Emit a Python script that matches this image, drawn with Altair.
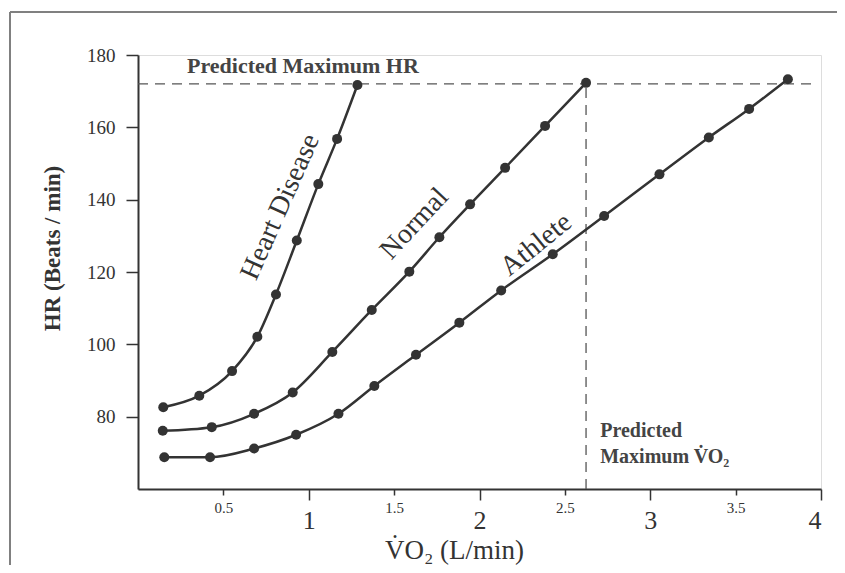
import altair as alt
import pandas as pd

# ---- data ----
hd_x = [0.148, 0.359, 0.551, 0.699, 0.808, 0.930, 1.056, 1.166, 1.285]
hd_y = [82.6, 85.8, 92.6, 102.1, 113.8, 128.7, 144.3, 156.8, 171.7]

normal_x = [0.145, 0.432, 0.680, 0.906, 1.138, 1.369, 1.589, 1.765, 1.945, 2.150, 2.384, 2.624]
normal_y = [76.1, 77.1, 80.8, 86.7, 97.9, 109.5, 120.1, 129.6, 138.7, 148.8, 160.4, 172.3]

athlete_x = [0.154, 0.422, 0.680, 0.926, 1.174, 1.384, 1.628, 1.882, 2.127, 2.429, 2.730, 3.054, 3.343, 3.579, 3.806]
athlete_y = [68.8, 68.8, 71.2, 75.0, 80.8, 88.5, 97.1, 106.0, 114.9, 124.9, 135.5, 147.0, 157.2, 165.1, 173.3]

x_ticks = [0.5, 1, 1.5, 2, 2.5, 3, 3.5, 4]
y_ticks = [80, 100, 120, 140, 160, 180]

max_hr = 172.0
max_vo2 = 2.624
hr_line_end = 3.96

FONT = "Liberation Serif"
INK = "#333333"

rows = []
for name, xs, ys in [("Heart Disease", hd_x, hd_y), ("Normal", normal_x, normal_y), ("Athlete", athlete_x, athlete_y)]:
    for i, (a, b) in enumerate(zip(xs, ys)):
        rows.append({"series": name, "vo2": a, "hr": b, "order": i})
df = pd.DataFrame(rows)

xscale = alt.Scale(domain=[0, 4], nice=False, zero=False)
yscale = alt.Scale(domain=[60, 180], nice=False, zero=False)

x_axis = alt.Axis(
    values=x_ticks,
    format="~g",
    grid=False,
    domainColor=INK, domainWidth=2,
    tickColor=INK, tickWidth=1.5,
    tickSize={"expr": "datum.value % 1 === 0 ? 11 : 6"},
    labelFont=FONT, labelColor=INK,
    labelFontSize={"expr": "datum.value % 1 === 0 ? 26 : 15"},
    labelPadding={"expr": "datum.value % 1 === 0 ? 7 : 5"},
    title="V\u0307O\u2082 (L/min)",
    titleFont=FONT, titleFontSize=27, titleFontWeight="normal", titleColor=INK,
    titleX=316, titleY=69, titleAlign="center", titleBaseline="alphabetic",
)
y_axis = alt.Axis(
    values=y_ticks,
    grid=False,
    domainColor=INK, domainWidth=2,
    tickColor=INK, tickWidth=1.5, tickSize=12,
    labelFont=FONT, labelColor=INK, labelFontSize=19, labelPadding=11,
    title="HR (Beats / min)",
    titleFont=FONT, titleFontSize=23, titleFontWeight="bold", titleColor=INK,
    titleX=-86, titleY=193, titleAngle=270, titleAlign="center", titleBaseline="middle",
)

base = alt.Chart(df)

lines = base.mark_line(color=INK, strokeWidth=2.5, interpolate="monotone").encode(
    x=alt.X("vo2:Q", scale=xscale, axis=x_axis),
    y=alt.Y("hr:Q", scale=yscale, axis=y_axis),
    detail="series:N",
    order="order:Q",
)
points = base.mark_circle(color=INK, size=100, opacity=1).encode(
    x=alt.X("vo2:Q", scale=xscale),
    y=alt.Y("hr:Q", scale=yscale),
)

hline = alt.Chart(pd.DataFrame({"x": [0], "x2": [hr_line_end], "y": [max_hr]})).mark_rule(
    color="#555555", strokeWidth=1.3, strokeDash=[10, 7]
).encode(x=alt.X("x:Q", scale=xscale), x2="x2:Q", y=alt.Y("y:Q", scale=yscale))

vline = alt.Chart(pd.DataFrame({"x": [max_vo2], "y": [60], "y2": [max_hr]})).mark_rule(
    color="#555555", strokeWidth=1.3, strokeDash=[10, 7]
).encode(x=alt.X("x:Q", scale=xscale), y=alt.Y("y:Q", scale=yscale), y2="y2:Q")

# curve labels
curve_labels = pd.DataFrame({
    "text": ["Heart Disease", "Normal", "Athlete"],
    "x": [0.835, 1.619, 2.333],
    "y": [138.0, 133.3, 127.5],
    "angle": [294, 313, 321],
})
clabels = alt.Chart(curve_labels).mark_text(
    font=FONT, fontSize=28, color=INK, align="center", baseline="middle"
).encode(
    x=alt.X("x:Q", scale=xscale), y=alt.Y("y:Q", scale=yscale),
    text="text:N", angle=alt.Angle("angle:Q", scale=None),
)

# annotations
note_hr = alt.Chart(pd.DataFrame({"x": [0.287], "y": [175.1], "t": ["Predicted Maximum HR"]})).mark_text(
    font=FONT, fontSize=22, fontWeight="bold", color="#444444", align="left", baseline="alphabetic"
).encode(x=alt.X("x:Q", scale=xscale), y=alt.Y("y:Q", scale=yscale), text="t:N")

note_vo2 = alt.Chart(pd.DataFrame({"x": [2.707, 2.707], "y": [74.4, 67.2],
                                   "t": ["Predicted", "Maximum V\u0307O\u2082"]})).mark_text(
    font=FONT, fontSize=20, fontWeight="bold", color="#444444", align="left", baseline="alphabetic"
).encode(x=alt.X("x:Q", scale=xscale), y=alt.Y("y:Q", scale=yscale), text="t:N")

# outer frame of the figure (decoration)
one = pd.DataFrame({"a": [0]})
frame_top = alt.Chart(one).mark_rule(color="#808080", strokeWidth=2).encode(
    x=alt.value(-128), x2=alt.value(720), y=alt.value(-43))
frame_left = alt.Chart(one).mark_rule(color="#808080", strokeWidth=2).encode(
    x=alt.value(-128), y=alt.value(-43), y2=alt.value(540))

chart = alt.layer(
    frame_top, frame_left, hline, vline, lines, points, clabels, note_hr, note_vo2
).properties(
    width=683, height=434,
    padding={"left": 130, "top": 47, "right": 16, "bottom": 76},
    autosize=alt.AutoSizeParams(type="none"),
).configure_view(stroke=None).configure(background="white")

chart.save("out.html", embed_options={"renderer": "svg", "actions": False})
